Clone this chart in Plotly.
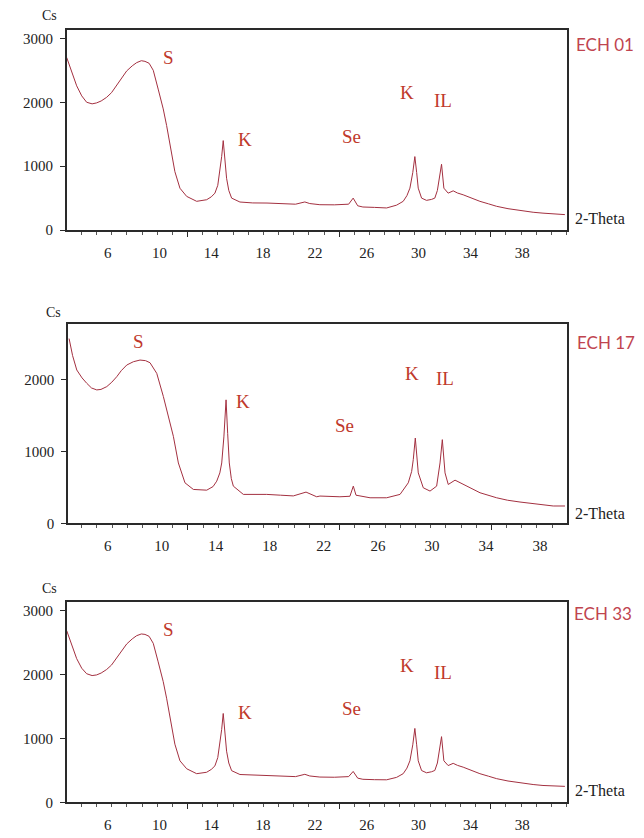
import plotly.graph_objects as go

# ---------- data ----------
# ECH 01
x01 = [2.84, 3.2, 3.61, 4.0, 4.38, 4.8, 5.15, 5.5, 5.92, 6.3, 6.69, 7.1, 7.47, 7.9, 8.24, 8.6, 8.88, 9.2, 9.52,
       9.9, 10.29, 10.55, 10.94, 11.19, 11.58, 12.1, 12.87, 13.64, 14.0, 14.28, 14.5, 14.67, 14.8, 14.92, 15.05,
       15.18, 15.35, 15.57, 16.21, 17.2, 18.3, 19.5, 20.5, 21.22, 21.6, 22.38, 23.5, 24.6, 24.95, 25.3, 25.7,
       26.6, 27.53, 28.3, 28.81, 29.1, 29.33, 29.55, 29.71, 29.85, 29.97, 30.23, 30.61, 31.0, 31.25, 31.45, 31.59,
       31.77, 31.95, 32.28, 32.67, 33.0, 33.44, 34.1, 34.73, 35.4, 36.02, 36.9, 37.81, 38.84, 39.6, 40.38, 41.29]
y01 = [2700, 2480, 2257, 2100, 2000, 1975, 1990, 2020, 2077, 2150, 2257, 2380, 2490, 2570, 2620, 2650, 2640, 2610, 2500,
       2206, 1896, 1637, 1224, 914, 655, 527, 450, 475, 520, 578, 700, 914, 1150, 1400, 1100,
       810, 620, 500, 439, 425, 423, 410, 405, 440, 415, 397, 395, 405, 500, 380, 361,
       355, 346, 390, 450, 540, 656, 900, 1150, 900, 656, 500, 465, 480, 500, 620, 810,
       1030, 656, 578, 614, 580, 552, 500, 450, 410, 372, 335, 304, 279, 265, 253, 242]

# ECH 17
x17 = [3.14, 3.4, 3.71, 4.1, 4.45, 4.8, 5.19, 5.5, 5.93, 6.3, 6.67, 7.0, 7.41, 7.9, 8.39, 8.8, 9.13, 9.63,
       10.12, 10.49, 10.86, 11.23, 11.72, 12.34, 13.33, 13.8, 14.07, 14.3, 14.44, 14.6, 14.76, 14.88, 15.0,
       15.15, 15.3, 16.04, 17.0, 17.77, 18.8, 19.74, 20.68, 21.47, 21.71, 23.19, 23.93, 24.18, 24.38,
       25.42, 26.65, 27.64, 28.25, 28.5, 28.62, 28.77, 28.99, 29.36, 29.86, 30.35, 30.6, 30.77, 30.97,
       31.21, 31.71, 32.32, 32.9, 33.56, 34.79, 35.6, 36.52, 37.75, 38.98, 39.85]
y17 = [2567, 2330, 2130, 2020, 1945, 1880, 1853, 1860, 1899, 1960, 2037, 2120, 2199, 2245, 2268, 2260, 2231, 2083,
       1761, 1484, 1208, 838, 562, 470, 460, 510, 585, 700, 838, 1200, 1715, 1250, 838,
       620, 516, 401, 405, 401, 390, 380, 433, 368, 378, 368, 375, 516, 390,
       354, 354, 401, 562, 720, 885, 1184, 700, 493, 447, 516, 838, 1162, 700,
       539, 599, 539, 480, 424, 354, 320, 295, 263, 240, 240]

# ECH 33
x33 = [2.84, 3.2, 3.61, 4.0, 4.38, 4.8, 5.15, 5.5, 5.92, 6.3, 6.69, 7.1, 7.47, 7.9, 8.24, 8.6, 8.88, 9.2, 9.52,
       9.9, 10.29, 10.55, 10.94, 11.19, 11.58, 12.1, 12.87, 13.64, 14.0, 14.28, 14.5, 14.67, 14.8, 14.92, 15.05,
       15.18, 15.35, 15.57, 16.21, 17.2, 18.3, 19.5, 20.5, 21.22, 21.6, 22.38, 23.5, 24.6, 24.95, 25.3, 25.7,
       26.6, 27.53, 28.3, 28.81, 29.1, 29.33, 29.55, 29.71, 29.85, 29.97, 30.23, 30.61, 31.0, 31.25, 31.45, 31.59,
       31.77, 31.95, 32.28, 32.67, 33.0, 33.44, 34.1, 34.73, 35.4, 36.02, 36.9, 37.81, 38.84, 39.6, 40.38, 41.29]
y33 = [2689, 2470, 2250, 2100, 2014, 1985, 1995, 2025, 2080, 2150, 2255, 2375, 2480, 2560, 2610, 2637, 2630, 2600, 2490,
       2200, 1890, 1630, 1220, 910, 650, 525, 448, 470, 515, 570, 700, 910, 1140, 1391, 1090,
       800, 615, 495, 435, 425, 420, 408, 402, 438, 412, 395, 392, 402, 483, 378, 360,
       354, 352, 390, 448, 535, 650, 900, 1157, 900, 650, 497, 462, 478, 498, 615, 800,
       1028, 650, 575, 610, 578, 550, 498, 448, 408, 370, 333, 302, 278, 263, 252, 249]

tick_vals = [6, 10, 14, 18, 22, 26, 30, 34, 38]
tick_text = ["6", "10", "14", "18", "22", "26", "30", "34", "38"]
sample_names = ["ECH 01", "ECH 17", "ECH 33"]
peak_names = ["S", "K", "Se", "K", "IL"]

# ---------- layout geometry ----------
W, H = 644, 838
def px(x):
    return x / W
def py(y):
    return (H - y) / H

panels = [
    dict(x=x01, y=y01, name=sample_names[0],
         xdom=[px(66.7), px(566.7)], ydom=[py(232.3), py(30)],
         xrange=[2.84, 41.43], yrange=[0, 3135], yticks=[0, 1000, 2000, 3000],
         long0=12.17, longstep=11.7, minor=1.17,
         lab=[(168, 58), (245, 141), (351.7, 138), (406.7, 93.3), (443, 101.7)],
         ech=(573.5, 45), theta=(600, 221), cs=(49, 16)),
    dict(x=x17, y=y17, name=sample_names[1],
         xdom=[px(68), px(567)], ydom=[py(528.3), py(326.7)],
         xrange=[3.06, 40.0], yrange=[0, 2775], yticks=[0, 1000, 2000],
         long0=11.94, longstep=11.23, minor=1.123,
         lab=[(138.3, 345), (243.3, 405), (344.7, 429.3), (411.7, 377), (445, 382)],
         ech=(575, 345.7), theta=(600, 518.3), cs=(53.3, 315.3)),
    dict(x=x33, y=y33, name=sample_names[2],
         xdom=[px(66.7), px(566.7)], ydom=[py(810), py(608.3)],
         xrange=[2.84, 41.43], yrange=[0, 3130], yticks=[0, 1000, 2000, 3000],
         long0=12.17, longstep=11.7, minor=1.17,
         lab=[(168.3, 636), (245, 719), (351.7, 715), (406.7, 671.7), (443.3, 679)],
         ech=(571.5, 619), theta=(600, 798), cs=(49, 594)),
]

LINE = "#a33040"
RED = "#c0392b"
ECHRED = "#c0444f"
AXC = "#2a2a2a"
SERIF = "Liberation Serif, DejaVu Serif, serif"

fig = go.Figure()
layout = dict(width=W, height=H, margin=dict(l=0, r=0, t=0, b=0),
              paper_bgcolor="white", plot_bgcolor="white", showlegend=False)
annotations = []

for i, p in enumerate(panels):
    n = i + 1
    xa = "x" if n == 1 else f"x{n}"
    ya = "y" if n == 1 else f"y{n}"
    fig.add_trace(go.Scatter(x=p["x"], y=p["y"], mode="lines", xaxis=xa, yaxis=ya,
                             line=dict(color=LINE, width=1), name=p["name"],
                             hoverinfo="skip"))
    xkey = "xaxis" if n == 1 else f"xaxis{n}"
    ykey = "yaxis" if n == 1 else f"yaxis{n}"
    layout[xkey] = dict(domain=p["xdom"], anchor=ya, range=p["xrange"],
                        tickvals=tick_vals, ticktext=tick_text, ticks="",
                        ticklabelstandoff=8,
                        tickfont=dict(family=SERIF, size=15, color="#222"),
                        showline=True, mirror=True, linecolor=AXC, linewidth=1.5,
                        showgrid=False, zeroline=False,
                        minor=dict(ticks="outside", ticklen=3, tickcolor="#555",
                                   tick0=p["long0"], dtick=p["minor"], showgrid=False))
    layout[ykey] = dict(domain=p["ydom"], anchor=xa, range=p["yrange"],
                        tickvals=p["yticks"], ticks="outside", ticklen=5, tickcolor=AXC,
                        ticklabelstandoff=4,
                        tickfont=dict(family=SERIF, size=15, color="#222"),
                        showline=True, mirror=True, linecolor=AXC, linewidth=1.5,
                        showgrid=False, zeroline=False)
    # overlay axis for the long ticks
    ox = 3 + n
    oxkey = f"xaxis{ox}"
    longs = [p["long0"] + k * p["longstep"] for k in range(3)]
    layout[oxkey] = dict(overlaying=xa, anchor=ya, side="bottom", range=p["xrange"],
                         tickvals=longs, ticks="outside", ticklen=6, tickcolor=AXC,
                         showticklabels=False, showline=False, showgrid=False,
                         zeroline=False)
    fig.add_trace(go.Scatter(x=[None], y=[None], xaxis=f"x{ox}", yaxis=ya,
                             showlegend=False, hoverinfo="skip"))

    for (lx, ly), t in zip(p["lab"], peak_names):
        annotations.append(dict(x=px(lx), y=py(ly), xref="paper", yref="paper",
                                text=t, showarrow=False,
                                font=dict(family=SERIF, size=19, color=RED),
                                xanchor="center", yanchor="middle"))
    annotations.append(dict(x=px(p["ech"][0]), y=py(p["ech"][1]), xref="paper", yref="paper",
                            text=p["name"], showarrow=False,
                            font=dict(family="Lato, Open Sans, sans-serif", size=17, color=ECHRED),
                            xanchor="left", yanchor="middle"))
    annotations.append(dict(x=px(p["theta"][0]), y=py(p["theta"][1]), xref="paper", yref="paper",
                            text="2-Theta", showarrow=False,
                            font=dict(family=SERIF, size=16, color="#222"),
                            xanchor="center", yanchor="middle"))
    annotations.append(dict(x=px(p["cs"][0]), y=py(p["cs"][1]), xref="paper", yref="paper",
                            text="Cs", showarrow=False,
                            font=dict(family=SERIF, size=14, color="#222"),
                            xanchor="center", yanchor="middle"))

layout["annotations"] = annotations
fig.update_layout(**layout)
fig.write_html("out.html", config={"displayModeBar": False},
               post_script="document.body.style.margin='0';document.body.style.overflow='hidden';")
